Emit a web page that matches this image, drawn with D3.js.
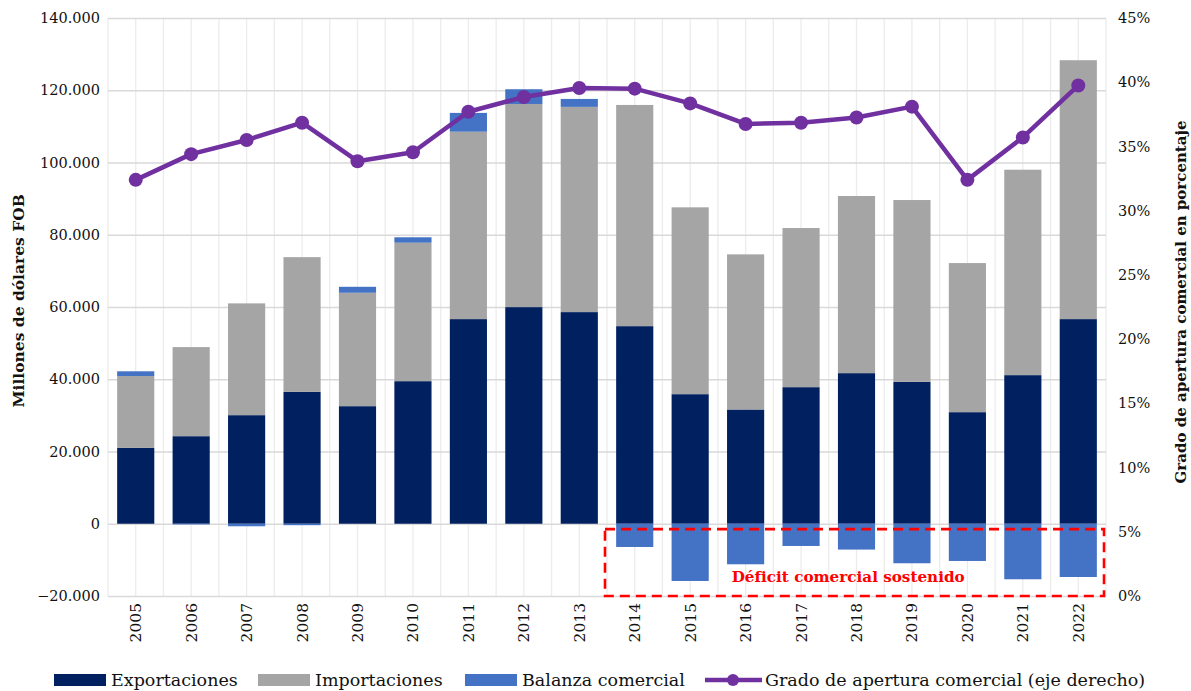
<!DOCTYPE html>
<html lang="es">
<head>
<meta charset="UTF-8" />
<title>Comercio exterior</title>
<script src="https://cdn.jsdelivr.net/npm/d3@7"></script>
<style>
    body { margin: 0; background: #fff; }
    svg { display: block; font-family: "DejaVu Serif", serif; }
</style>
</head>
<body>
<svg id="chart" width="1191" height="691"></svg>
<script>
    const years = ["2005","2006","2007","2008","2009","2010","2011","2012","2013",
                   "2014","2015","2016","2017","2018","2019","2020","2021","2022"];
    // millones de dólares FOB
    const exportaciones = [21000, 24240, 30060, 36500, 32550, 39470, 56650, 59970, 58590,
                           54700, 35870, 31630, 37810, 41690, 39280, 30890, 41140, 56650];
    const importaciones = [19900, 24660, 30940, 37300, 31390, 38330, 51880, 56230, 56810,
                           61230, 51720, 42940, 44050, 49030, 50330, 41270, 56860, 71660];
    const balanza = [1300, -200, -700, -400, 1650, 1500, 5200, 4080, 2200,
                     -6430, -15840, -11220, -6150, -7150, -10940, -10300, -15370, -14740];
    // porcentaje
    const apertura = [32.4, 34.4, 35.5, 36.85, 33.85, 34.55, 37.7, 38.85, 39.55,
                      39.5, 38.35, 36.75, 36.85, 37.25, 38.1, 32.4, 35.7, 39.75];
    const leftTicks = [-20000, 0, 20000, 40000, 60000, 80000, 100000, 120000, 140000];
    const rightTicks = [0, 5, 10, 15, 20, 25, 30, 35, 40, 45];

    const colors = { exp: "#002060", imp: "#a5a5a5", bal: "#4472c4", line: "#7030a0" };

    const svg = d3.select("#chart");
    const m = { left: 108, right: 1106, top: 18, bottom: 596 };

    const x = d3.scaleBand().domain(years).range([m.left, m.right]);
    const y = d3.scaleLinear().domain([-20000, 140000]).range([m.bottom, m.top]);
    const y2 = d3.scaleLinear().domain([0, 45]).range([m.bottom, m.top]);
    const barW = x.bandwidth() * 0.67;

    const loc = d3.formatLocale({ decimal: ",", thousands: ".", grouping: [3], currency: ["", ""] });
    const fmt = loc.format(",.0f");

    // vertical grid: category edges and centres
    const vg = svg.append("g");
    years.forEach(yr => {
        [x(yr), x(yr) + x.bandwidth() / 2].forEach(px => {
            vg.append("line").attr("x1", px).attr("x2", px)
                .attr("y1", m.top).attr("y2", m.bottom)
                .attr("stroke", "#ececec").attr("stroke-width", 1.3);
        });
    });
    vg.append("line").attr("x1", m.right).attr("x2", m.right)
        .attr("y1", m.top).attr("y2", m.bottom).attr("stroke", "#ececec").attr("stroke-width", 1.3);

    // left axis + horizontal grid
    const yAxis = svg.append("g").attr("transform", `translate(${m.left},0)`)
        .call(d3.axisLeft(y).tickValues(leftTicks).tickFormat(d => fmt(d))
            .tickSize(-(m.right - m.left)).tickPadding(8));
    yAxis.select(".domain").remove();
    yAxis.selectAll(".tick line").attr("stroke", "#d9d9d9").attr("stroke-width", 1.6);
    yAxis.selectAll(".tick text").attr("font-family", "DejaVu Serif").attr("font-size", 14.5).attr("fill", "#111");

    // right axis
    const y2Axis = svg.append("g").attr("transform", `translate(${m.right},0)`)
        .call(d3.axisRight(y2).tickValues(rightTicks).tickFormat(d => d + "%").tickSize(0).tickPadding(12));
    y2Axis.select(".domain").remove();
    y2Axis.selectAll(".tick text").attr("font-family", "DejaVu Serif").attr("font-size", 14.5).attr("fill", "#111");

    // bars
    const bars = svg.append("g");
    years.forEach((yr, i) => {
        const bx = x(yr) + (x.bandwidth() - barW) / 2;
        const e = exportaciones[i], im = importaciones[i], b = balanza[i];
        bars.append("rect").attr("x", bx).attr("width", barW)
            .attr("y", y(e)).attr("height", y(0) - y(e)).attr("fill", colors.exp);
        bars.append("rect").attr("x", bx).attr("width", barW)
            .attr("y", y(e + im)).attr("height", y(e) - y(e + im)).attr("fill", colors.imp);
        if (b >= 0) {
            bars.append("rect").attr("x", bx).attr("width", barW)
                .attr("y", y(e + im + b)).attr("height", y(e + im) - y(e + im + b)).attr("fill", colors.bal);
        } else {
            bars.append("rect").attr("x", bx).attr("width", barW)
                .attr("y", y(0)).attr("height", y(b) - y(0)).attr("fill", colors.bal);
        }
    });

    // line
    const cx = yr => x(yr) + x.bandwidth() / 2;
    const line = d3.line().x((d, i) => cx(years[i])).y(d => y2(d));
    svg.append("path").datum(apertura).attr("d", line)
        .attr("fill", "none").attr("stroke", colors.line).attr("stroke-width", 4.5)
        .attr("stroke-linejoin", "round");
    svg.append("g").selectAll("circle").data(apertura).join("circle")
        .attr("cx", (d, i) => cx(years[i])).attr("cy", d => y2(d))
        .attr("r", 7).attr("fill", colors.line);

    // year labels
    svg.append("g").selectAll("text").data(years).join("text")
        .attr("transform", d => `translate(${cx(d) + 5.5},${m.bottom + 7}) rotate(-90)`)
        .attr("text-anchor", "end").attr("font-size", 15.5).attr("fill", "#111").text(d => d);

    // annotation box
    const boxX0 = x("2014") - 2, boxX1 = m.right - 2;
    svg.append("rect").attr("x", boxX0).attr("y", y(-1500))
        .attr("width", boxX1 - boxX0).attr("height", y(-20000) - y(-1500))
        .attr("fill", "none").attr("stroke", "#ff0000").attr("stroke-width", 2.6)
        .attr("stroke-dasharray", "10,6");
    svg.append("text").attr("x", x("2018") + x.bandwidth() * 0.35).attr("y", 582)
        .attr("text-anchor", "middle").attr("font-weight", "bold").attr("font-size", 15.2)
        .attr("fill", "#ff0000").text("Déficit comercial sostenido");

    // axis titles
    svg.append("text").attr("transform", `translate(24,${(y(40000) + y(100000)) / 2 + 30}) rotate(-90)`)
        .attr("text-anchor", "middle").attr("font-weight", "bold").attr("font-size", 15.5)
        .attr("fill", "#111").text("Millones de dólares FOB");
    svg.append("text").attr("transform", `translate(1186,302) rotate(-90)`)
        .attr("text-anchor", "middle").attr("font-weight", "bold").attr("font-size", 15)
        .attr("fill", "#111").text("Grado de apertura comercial en porcentaje");

    // legend
    const legend = [
        { label: "Exportaciones", color: colors.exp, x: 54, type: "rect" },
        { label: "Importaciones", color: colors.imp, x: 258, type: "rect" },
        { label: "Balanza comercial", color: colors.bal, x: 465, type: "rect" },
        { label: "Grado de apertura comercial (eje derecho)", color: colors.line, x: 705, type: "line" }
    ];
    const lg = svg.append("g");
    legend.forEach(l => {
        if (l.type === "rect") {
            lg.append("rect").attr("x", l.x).attr("y", 674).attr("width", 52).attr("height", 12).attr("fill", l.color);
        } else {
            lg.append("line").attr("x1", l.x).attr("x2", l.x + 57).attr("y1", 680).attr("y2", 680)
                .attr("stroke", l.color).attr("stroke-width", 4.5);
            lg.append("circle").attr("cx", l.x + 28).attr("cy", 680).attr("r", 6).attr("fill", l.color);
        }
        lg.append("text").attr("x", l.x + (l.type === "rect" ? 57 : 60)).attr("y", 686)
            .attr("font-size", 17.5).attr("fill", "#111").text(l.label);
    });
</script>
</body>
</html>
